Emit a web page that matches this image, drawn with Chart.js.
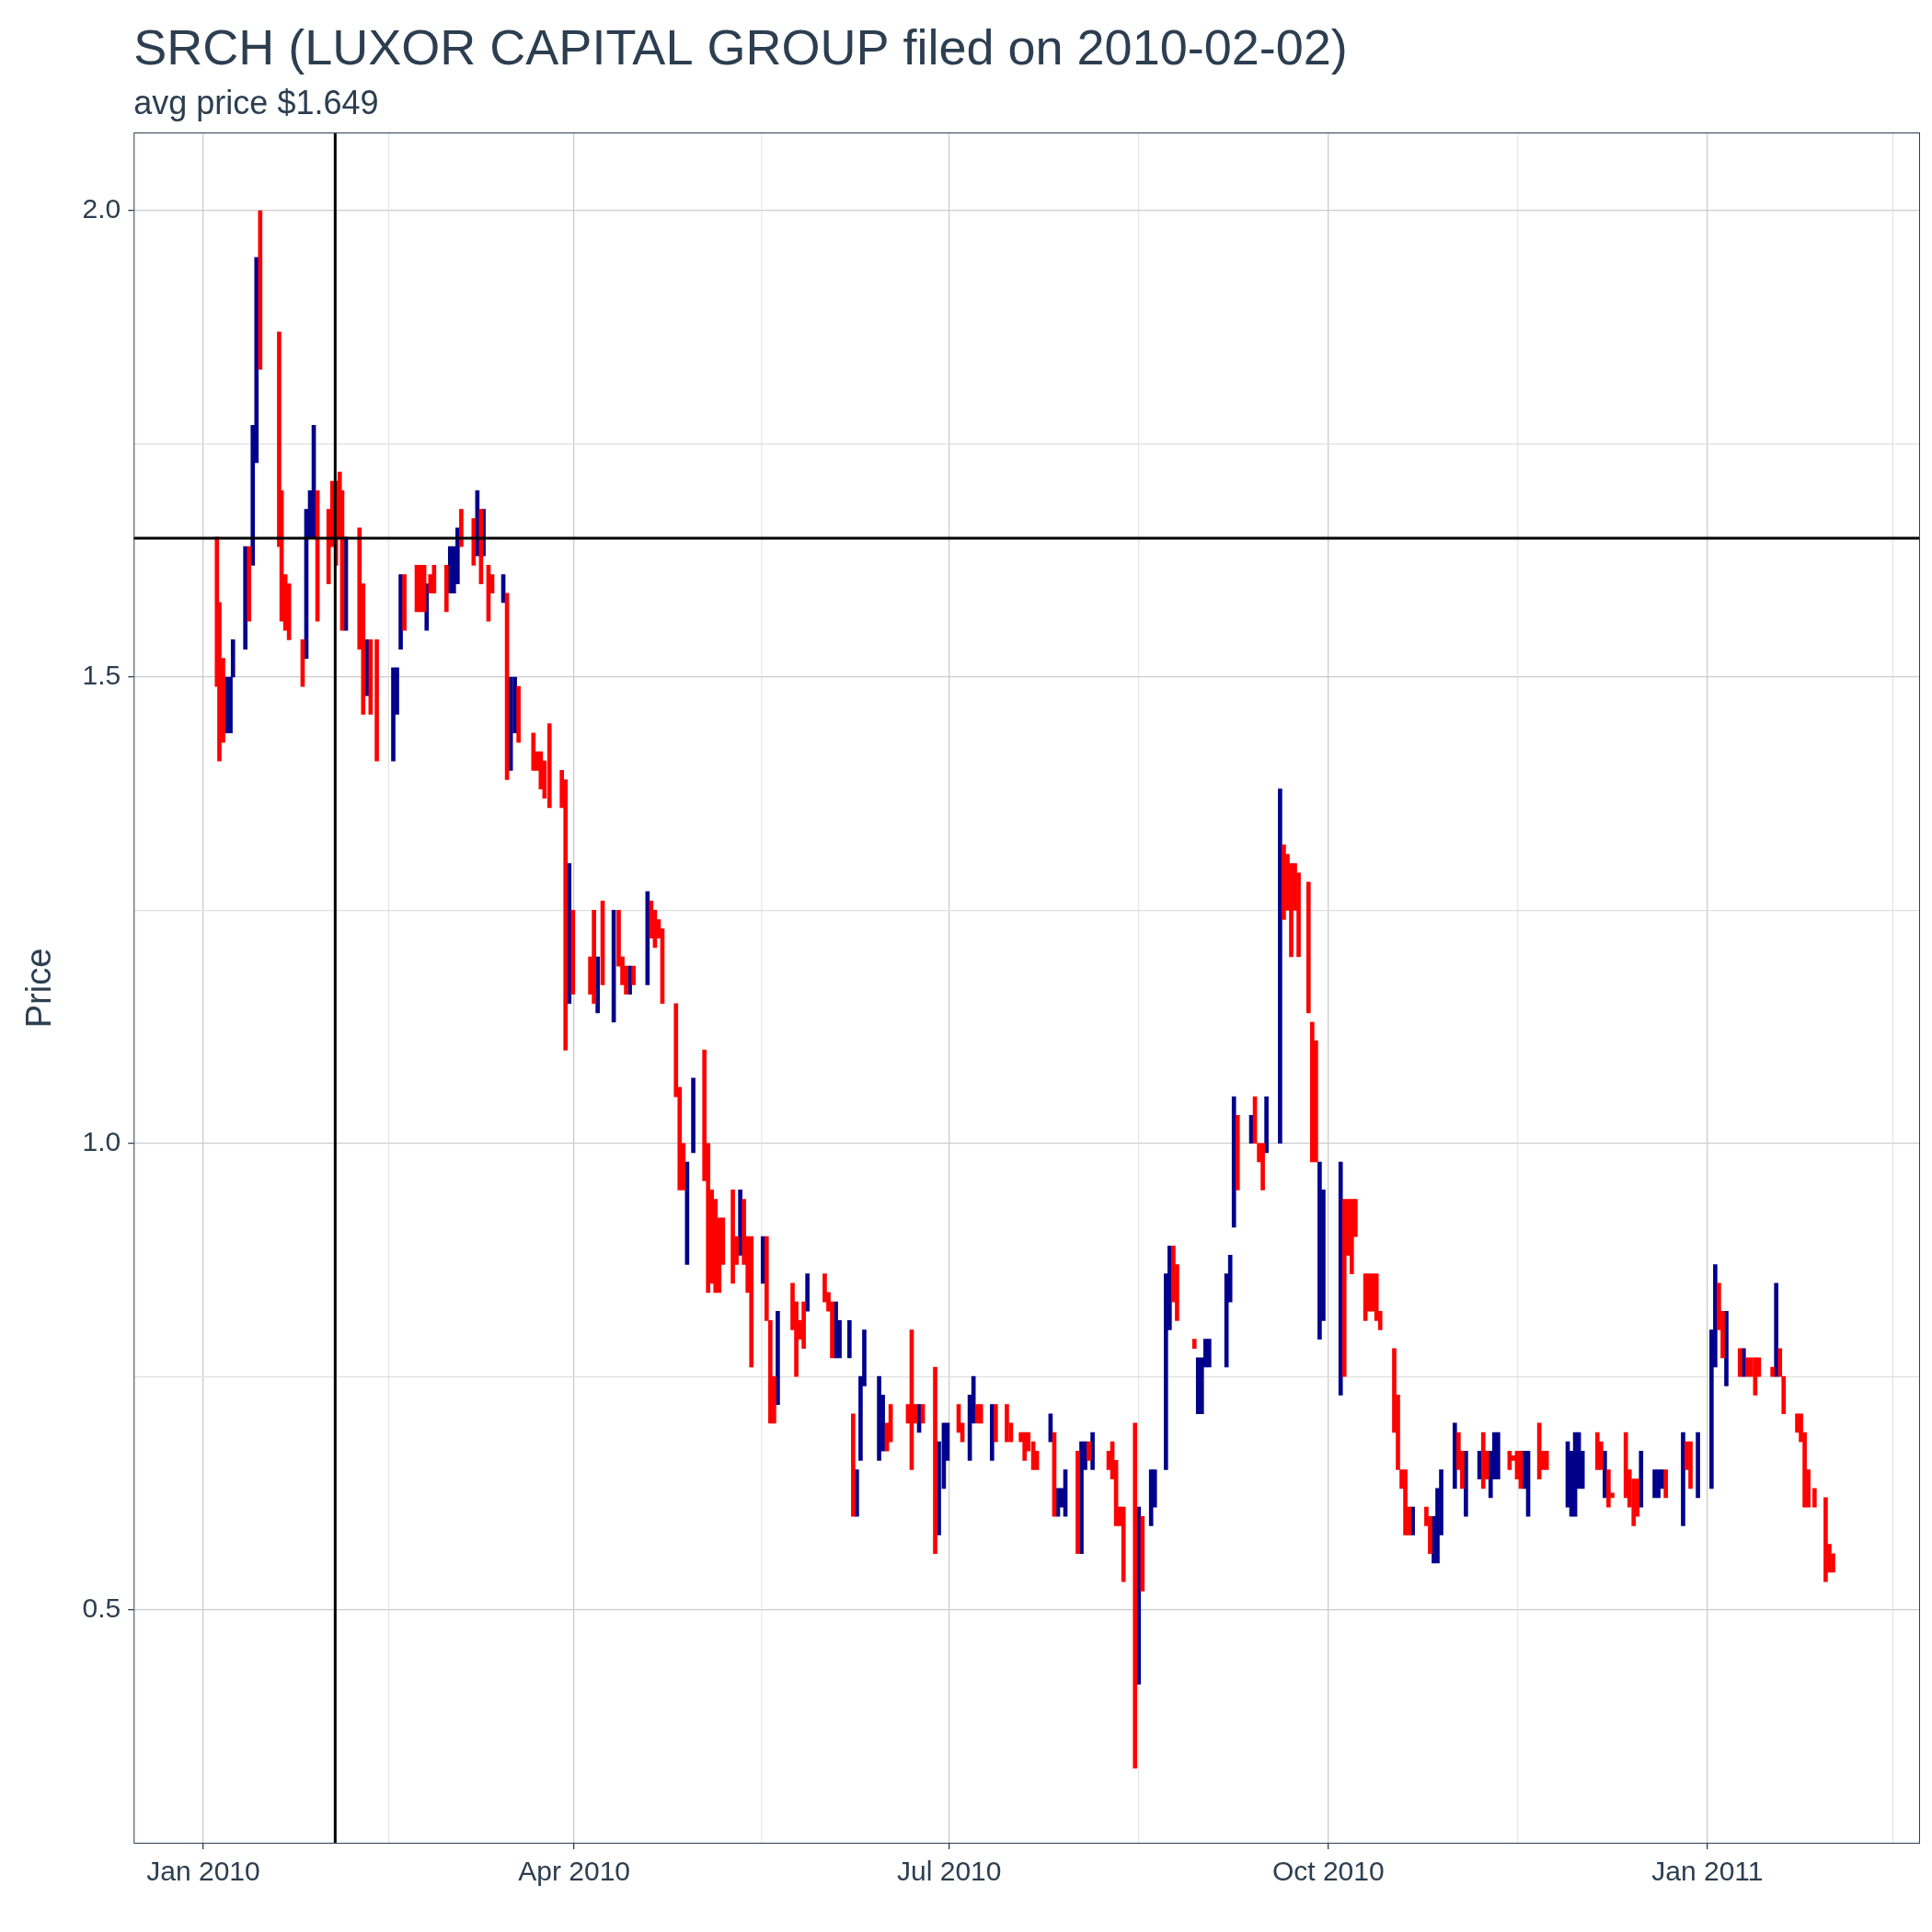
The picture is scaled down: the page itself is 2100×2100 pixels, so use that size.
<!DOCTYPE html>
<html><head><meta charset="utf-8">
<script src="https://cdn.jsdelivr.net/npm/chart.js@4.4.1/dist/chart.umd.min.js"></script>
<style>html,body{margin:0;padding:0;background:#fff}</style>
</head><body>
<canvas id="c" width="2100" height="2100"></canvas>
<script>
// each bar: [day offset from 2010-01-01, low, high, up(1)/down(0)]
const bars=[
[3.3,1.49,1.65,0],[3.9,1.41,1.58,0],[4.8,1.43,1.52,0],[5.7,1.44,1.50,1],[6.6,1.44,1.50,1],[7.2,1.50,1.54,1],
[10.2,1.53,1.64,1],[11.1,1.56,1.64,0],[12.0,1.62,1.77,1],[12.9,1.73,1.95,1],[13.8,1.83,2.00,0],
[18.4,1.64,1.87,0],[19.0,1.56,1.70,0],[19.9,1.55,1.61,0],[20.8,1.54,1.60,0],
[24.1,1.49,1.54,0],[25.0,1.52,1.68,1],[25.9,1.65,1.70,1],[26.8,1.65,1.77,1],[27.7,1.56,1.70,0],
[30.4,1.60,1.68,0],[31.3,1.64,1.71,0],[32.2,1.62,1.71,0],[33.1,1.65,1.72,0],[33.7,1.55,1.70,0],[34.6,1.55,1.65,1],
[37.9,1.53,1.66,0],[38.8,1.46,1.60,0],[39.7,1.48,1.54,1],[40.6,1.46,1.54,0],[42.1,1.41,1.54,0],
[46.1,1.41,1.51,1],[47.0,1.46,1.51,1],[47.9,1.53,1.61,1],[48.8,1.55,1.61,0],
[51.8,1.57,1.62,0],[52.7,1.57,1.62,0],[53.6,1.57,1.62,0],[54.2,1.55,1.60,1],[55.1,1.59,1.61,0],[56.0,1.59,1.62,0],
[59.0,1.57,1.62,0],[59.9,1.59,1.64,1],[60.8,1.59,1.64,1],[61.7,1.60,1.66,1],[62.6,1.64,1.68,0],
[65.6,1.62,1.67,0],[66.5,1.63,1.70,1],[67.4,1.60,1.68,0],[68.0,1.63,1.68,1],[69.2,1.56,1.62,0],[70.1,1.59,1.61,0],
[72.8,1.58,1.61,1],[73.7,1.39,1.59,0],[74.6,1.40,1.50,1],[75.6,1.44,1.50,1],[76.5,1.43,1.49,0],
[80.1,1.40,1.44,0],[81.0,1.40,1.42,0],[81.9,1.38,1.42,0],[82.8,1.37,1.41,0],[84.0,1.36,1.45,0],
[87.0,1.36,1.40,0],[87.9,1.10,1.39,0],[88.8,1.15,1.30,1],[89.7,1.16,1.25,0],
[93.9,1.16,1.20,0],[94.8,1.15,1.25,0],[95.7,1.14,1.20,1],[96.9,1.17,1.26,0],
[99.6,1.13,1.25,1],[100.8,1.19,1.25,0],[101.7,1.17,1.20,0],[102.6,1.16,1.19,0],[103.5,1.16,1.19,1],[104.4,1.17,1.19,0],
[107.8,1.17,1.27,1],[108.7,1.22,1.26,0],[109.6,1.21,1.25,0],[110.5,1.22,1.24,0],[111.4,1.15,1.23,0],
[114.7,1.05,1.15,0],[115.6,0.95,1.06,0],[116.5,0.95,1.00,0],[117.4,0.87,0.98,1],[118.9,0.99,1.07,1],
[121.6,0.96,1.10,0],[122.5,0.84,1.00,0],[123.4,0.85,0.95,0],[124.3,0.84,0.94,0],[125.2,0.84,0.92,0],[126.1,0.87,0.92,0],
[128.5,0.85,0.95,0],[129.4,0.87,0.90,0],[130.3,0.88,0.95,1],[131.2,0.87,0.94,0],[132.1,0.84,0.90,0],[133.0,0.76,0.90,0],
[135.8,0.85,0.90,1],[136.7,0.81,0.90,0],[137.6,0.70,0.81,0],[138.5,0.70,0.75,0],[139.4,0.72,0.82,1],
[143.0,0.80,0.85,0],[143.9,0.75,0.83,0],[144.8,0.79,0.81,0],[145.7,0.78,0.83,0],[146.6,0.82,0.86,1],
[150.8,0.83,0.86,0],[151.7,0.82,0.84,0],[152.6,0.77,0.83,0],[153.5,0.77,0.83,1],[154.4,0.77,0.81,1],
[156.8,0.77,0.81,1],[157.7,0.60,0.71,0],[158.6,0.60,0.65,1],[159.5,0.66,0.75,1],[160.4,0.74,0.80,1],
[164.0,0.66,0.75,1],[164.9,0.67,0.73,1],[165.9,0.67,0.70,0],[166.8,0.68,0.72,0],
[171.0,0.70,0.72,0],[171.9,0.65,0.80,0],[172.8,0.70,0.72,0],[173.7,0.69,0.72,1],[174.6,0.70,0.72,0],
[177.6,0.56,0.76,0],[178.5,0.58,0.68,1],[179.7,0.63,0.70,1],[180.6,0.66,0.70,1],
[183.3,0.69,0.72,0],[184.2,0.68,0.70,0],[186.0,0.66,0.73,1],[186.9,0.70,0.75,1],[187.8,0.70,0.72,0],[188.7,0.70,0.72,0],
[191.4,0.66,0.72,1],[192.3,0.68,0.72,0],[195.0,0.68,0.72,0],[196.0,0.68,0.70,0],
[198.4,0.68,0.69,0],[199.3,0.66,0.69,0],[200.2,0.67,0.69,0],[201.4,0.65,0.68,0],[202.3,0.65,0.67,0],
[205.6,0.68,0.71,1],[206.5,0.60,0.69,0],[207.4,0.60,0.63,1],[208.3,0.61,0.63,1],[209.2,0.60,0.65,1],
[212.2,0.56,0.67,0],[213.1,0.56,0.68,1],[214.0,0.65,0.68,1],[214.9,0.66,0.68,0],[215.8,0.65,0.69,1],
[219.7,0.65,0.67,0],[220.6,0.64,0.68,0],[221.5,0.59,0.66,0],[222.4,0.59,0.61,0],[223.3,0.53,0.61,0],
[226.1,0.33,0.70,0],[227.0,0.42,0.61,1],[227.9,0.52,0.60,0],[230.0,0.59,0.65,1],[230.9,0.61,0.65,1],
[233.6,0.65,0.86,1],[234.5,0.80,0.89,1],[235.4,0.83,0.89,0],[236.3,0.81,0.87,0],
[240.5,0.78,0.79,0],[241.4,0.71,0.77,1],[242.3,0.71,0.77,1],[243.2,0.76,0.79,1],[244.1,0.76,0.79,1],
[248.3,0.76,0.86,1],[249.2,0.83,0.88,1],[250.1,0.91,1.05,1],[251.0,0.95,1.03,0],
[254.3,1.00,1.03,1],[255.2,1.00,1.05,0],[256.2,0.98,1.00,0],[257.1,0.95,1.00,0],[258.0,0.99,1.05,1],
[261.3,1.00,1.38,1],[262.2,1.24,1.32,0],[263.1,1.25,1.31,0],[264.0,1.20,1.30,0],[264.9,1.25,1.30,0],[265.8,1.20,1.29,0],
[268.2,1.14,1.28,0],[269.1,0.98,1.13,0],[270.0,0.98,1.11,0],[270.9,0.79,0.98,1],[271.8,0.81,0.95,1],
[276.0,0.73,0.98,1],[276.9,0.75,0.94,0],[277.8,0.88,0.94,0],[278.7,0.86,0.94,0],[279.6,0.90,0.94,0],
[282.0,0.81,0.86,0],[282.9,0.82,0.86,0],[283.8,0.82,0.86,0],[284.7,0.81,0.86,0],[285.6,0.80,0.82,0],
[289.0,0.69,0.78,0],[289.9,0.65,0.73,0],[290.8,0.63,0.65,0],[291.7,0.58,0.65,0],[292.6,0.58,0.61,0],[293.5,0.58,0.61,1],
[296.8,0.59,0.61,0],[297.7,0.56,0.60,0],[298.6,0.55,0.60,1],[299.5,0.55,0.63,1],[300.4,0.58,0.65,1],
[303.7,0.63,0.70,1],[304.6,0.65,0.69,0],[305.5,0.63,0.67,0],[306.4,0.60,0.67,1],
[309.7,0.64,0.67,1],[310.6,0.63,0.69,0],[311.5,0.64,0.67,0],[312.4,0.62,0.67,1],[313.3,0.64,0.69,1],[314.2,0.64,0.69,1],
[317.0,0.65,0.67,0],[317.9,0.66,0.66,0],[318.8,0.64,0.67,0],[319.7,0.63,0.67,0],[320.6,0.63,0.67,1],[321.5,0.60,0.67,1],
[324.2,0.64,0.70,0],[325.1,0.65,0.67,0],[326.0,0.65,0.67,0],
[331.1,0.61,0.68,1],[332.0,0.60,0.67,1],[332.9,0.60,0.69,1],[333.8,0.63,0.69,1],[334.7,0.63,0.67,1],
[338.3,0.65,0.69,0],[339.2,0.65,0.68,0],[340.1,0.62,0.67,1],[341.0,0.61,0.65,0],[341.9,0.62,0.62,0],
[345.2,0.62,0.69,0],[346.1,0.61,0.65,0],[347.1,0.59,0.64,0],[348.0,0.60,0.64,0],[348.9,0.61,0.67,1],
[352.2,0.62,0.65,1],[353.1,0.62,0.65,1],[354.0,0.63,0.65,1],[354.9,0.62,0.65,0],
[359.1,0.59,0.69,1],[360.0,0.65,0.68,0],[360.9,0.63,0.68,0],[362.7,0.62,0.69,1],
[366.0,0.63,0.80,1],[366.9,0.76,0.87,1],[367.8,0.80,0.85,0],[368.7,0.77,0.82,0],[369.6,0.74,0.82,1],
[372.9,0.75,0.78,0],[373.8,0.75,0.78,1],[374.7,0.75,0.77,0],[375.6,0.75,0.77,0],[376.6,0.73,0.77,0],[377.5,0.75,0.77,0],
[380.8,0.75,0.76,0],[381.7,0.75,0.85,1],[382.6,0.75,0.78,0],[383.5,0.71,0.75,0],
[386.8,0.69,0.71,0],[387.7,0.68,0.71,0],[388.6,0.61,0.69,0],[389.5,0.61,0.65,0],[391.0,0.61,0.63,0],
[393.7,0.53,0.62,0],[394.6,0.54,0.57,0],[395.5,0.54,0.56,0]
];
const xTickDays=[0,90,181,273,365];
const xTickLabels=["Jan 2010","Apr 2010","Jul 2010","Oct 2010","Jan 2011"];
const xMinorDays=[45,135.5,227,319,410];
const filingDay=32;
const avgPrice=1.649;

const up=[],down=[];
bars.forEach(b=>{const hi=b[2]>b[1]?b[2]:b[1]+0.005;(b[3]?up:down).push({x:b[0],y:[b[1],hi]});});
const FONT='"Liberation Sans", Arial, sans-serif';
const overlay={id:'overlay',
 beforeDatasetsDraw(ch){const {ctx,chartArea:a,scales:{x}}=ch;ctx.save();ctx.strokeStyle='#e0e0e0';ctx.lineWidth=1;
  xMinorDays.forEach(d=>{const px=x.getPixelForValue(d);if(px>a.left&&px<a.right){ctx.beginPath();ctx.moveTo(px,a.top);ctx.lineTo(px,a.bottom);ctx.stroke();}});ctx.restore();},
 afterDatasetsDraw(ch){const {ctx,chartArea:a,scales:{x,y}}=ch;ctx.save();ctx.strokeStyle='#000';ctx.lineWidth=3;
  const vx=x.getPixelForValue(filingDay);ctx.beginPath();ctx.moveTo(vx,a.top);ctx.lineTo(vx,a.bottom);ctx.stroke();
  const hy=y.getPixelForValue(avgPrice);ctx.beginPath();ctx.moveTo(a.left,hy);ctx.lineTo(a.right,hy);ctx.stroke();
  ctx.strokeStyle='#2c3e50';ctx.lineWidth=1;ctx.strokeRect(a.left+0.5,a.top+0.5,a.right-a.left-1,a.bottom-a.top-1);
  ctx.fillStyle='#2c3e50';ctx.textBaseline='alphabetic';ctx.textAlign='left';
  ctx.font='54px '+FONT;ctx.fillText('SRCH (LUXOR CAPITAL GROUP filed on 2010-02-02)',a.left,70);
  ctx.font='36px '+FONT;ctx.fillText('avg price $1.649',a.left,124);
  ctx.restore();}};
const isMajor=v=>Math.abs(v*2-Math.round(v*2))<1e-6;
new Chart(document.getElementById('c'),{type:'bar',
 data:{datasets:[{data:down,backgroundColor:'#ff0000',barThickness:4,grouped:false},{data:up,backgroundColor:'#00008b',barThickness:4,grouped:false}]},
 options:{responsive:false,animation:false,devicePixelRatio:1,
  layout:{padding:{top:144,right:13,bottom:38,left:18}},
  plugins:{legend:{display:false},tooltip:{enabled:false}},
  scales:{
   x:{type:'linear',min:-16.9,max:416.6,offset:false,
    afterBuildTicks(s){s.ticks=xTickDays.map(v=>({value:v}));},
    ticks:{autoSkip:false,maxRotation:0,font:{size:30,family:FONT},color:'#2c3e50',padding:8,callback:(v)=>xTickLabels[xTickDays.indexOf(v)]},
    grid:{offset:false,color:'#cccccc',lineWidth:1.3,drawTicks:true,tickLength:6,tickColor:'#2c3e50'},border:{display:false}},
   y:{min:0.249,max:2.084,
    afterBuildTicks(s){s.ticks=[0.5,0.75,1.0,1.25,1.5,1.75,2.0].map(v=>({value:v}));},
    ticks:{font:{size:30,family:FONT},color:'#2c3e50',padding:8,callback:(v)=>isMajor(v)?v.toFixed(1):''},
    grid:{color:(c)=>isMajor(c.tick&&c.tick.value)?'#cccccc':'#e0e0e0',lineWidth:1.3,tickLength:6,tickColor:(c)=>isMajor(c.tick&&c.tick.value)?'#2c3e50':'rgba(0,0,0,0)'},border:{display:false},
    title:{display:true,text:'Price',font:{size:38,family:FONT},color:'#2c3e50',padding:{bottom:14}}}
  }},plugins:[overlay]});
</script>
</body></html>
